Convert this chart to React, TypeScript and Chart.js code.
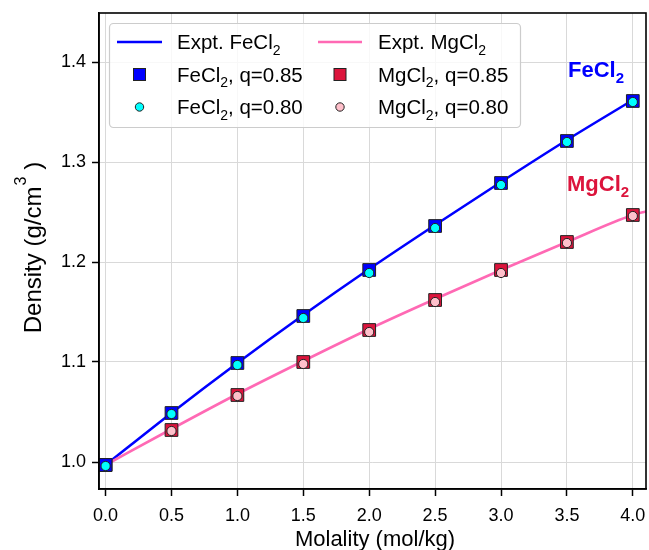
import React, { useEffect, useRef } from 'react';
import { Chart, registerables } from 'chart.js';

Chart.register(...registerables);

const FONT = '"Liberation Sans", Arial, sans-serif';

const molality = [0, 0.5, 1.0, 1.5, 2.0, 2.5, 3.0, 3.5, 4.0];
const feQ85 = [0.997, 1.049, 1.099, 1.146, 1.192, 1.236, 1.279, 1.321, 1.361];
const feQ80 = [0.996, 1.048, 1.097, 1.144, 1.189, 1.234, 1.277, 1.320, 1.360];
const mgQ85 = [0.997, 1.032, 1.067, 1.100, 1.132, 1.162, 1.192, 1.220, 1.247];
const mgQ80 = [0.996, 1.031, 1.066, 1.098, 1.130, 1.160, 1.189, 1.219, 1.246];
const exptFeX = [0, 0.5, 1.0, 1.5, 2.0, 2.5, 3.0, 3.5, 4.0];
const exptFeY = [0.997, 1.049, 1.099, 1.147, 1.193, 1.237, 1.280, 1.322, 1.362];
const exptMgX = [0, 0.5, 1.0, 1.5, 2.0, 2.5, 3.0, 3.5, 4.0, 4.1];
const exptMgY = [0.997, 1.033, 1.068, 1.101, 1.133, 1.163, 1.192, 1.220, 1.247, 1.2505];
const xTicks = [0, 0.5, 1.0, 1.5, 2.0, 2.5, 3.0, 3.5, 4.0];
const yTicks = [1.0, 1.1, 1.2, 1.3, 1.4];

const pts = (xs: number[], ys: number[]) => xs.map((x, i) => ({ x, y: ys[i] }));

type LegendItem = {
  kind: 'line' | 'rect' | 'circle';
  color: string;
  main: string;
  sub: string;
  tail: string;
};

const legendCols: LegendItem[][] = [
  [
    { kind: 'line', color: '#0000ff', main: 'Expt. FeCl', sub: '2', tail: '' },
    { kind: 'rect', color: '#0000ff', main: 'FeCl', sub: '2', tail: ', q=0.85' },
    { kind: 'circle', color: '#00ffff', main: 'FeCl', sub: '2', tail: ', q=0.80' },
  ],
  [
    { kind: 'line', color: '#ff69b4', main: 'Expt. MgCl', sub: '2', tail: '' },
    { kind: 'rect', color: '#dc143c', main: 'MgCl', sub: '2', tail: ', q=0.85' },
    { kind: 'circle', color: '#ffc0cb', main: 'MgCl', sub: '2', tail: ', q=0.80' },
  ],
];

function drawSubText(
  ctx: CanvasRenderingContext2D,
  x: number,
  y: number,
  main: string,
  sub: string,
  tail: string,
  size: number,
  bold: boolean,
  color: string
) {
  const w0 = bold ? 'bold ' : '';
  ctx.fillStyle = color;
  ctx.textAlign = 'left';
  ctx.textBaseline = 'alphabetic';
  ctx.font = `${w0}${size}px ${FONT}`;
  ctx.fillText(main, x, y);
  let w = ctx.measureText(main).width;
  ctx.font = `${w0}${Math.round(size * 0.7)}px ${FONT}`;
  ctx.fillText(sub, x + w, y + size * 0.27);
  w += ctx.measureText(sub).width;
  if (tail) {
    ctx.font = `${w0}${size}px ${FONT}`;
    ctx.fillText(tail, x + w, y);
    w += ctx.measureText(tail).width;
  }
  return w;
}

const zeroPad = () => ({ left: 0, top: 0, right: 0, bottom: 0 });

const overlayPlugin = {
  id: 'overlay',
  afterDraw(chart: any) {
    const ctx: CanvasRenderingContext2D = chart.ctx;
    const a = chart.chartArea;
    ctx.save();
    // frame
    ctx.strokeStyle = '#000';
    ctx.lineWidth = 1.6;
    ctx.strokeRect(a.left, a.top, a.right - a.left, a.bottom - a.top);

    // x title
    ctx.fillStyle = '#000';
    ctx.font = `22px ${FONT}`;
    ctx.textAlign = 'center';
    ctx.textBaseline = 'alphabetic';
    ctx.fillText('Molality (mol/kg)', 375, 546);

    // y title
    ctx.save();
    ctx.font = `24px ${FONT}`;
    const mainT = 'Density (g/cm';
    const wMain = ctx.measureText(mainT).width;
    ctx.font = `16px ${FONT}`;
    const wSup = ctx.measureText('3').width;
    ctx.font = `24px ${FONT}`;
    const wClose = ctx.measureText(')').width;
    const gap = 8;
    const total = wMain + wSup + gap + wClose;
    const startY = 247.5 + total / 2;
    ctx.translate(41, startY);
    ctx.rotate(-Math.PI / 2);
    ctx.textAlign = 'left';
    ctx.fillStyle = '#000';
    ctx.fillText(mainT, 0, 0);
    ctx.font = `16px ${FONT}`;
    ctx.fillText('3', wMain + 1, -15);
    ctx.font = `24px ${FONT}`;
    ctx.fillText(')', wMain + wSup + gap, 0);
    ctx.restore();

    // annotations
    drawSubText(ctx, 568, 77, 'FeCl', '2', '', 22, true, '#0000ff');
    drawSubText(ctx, 567, 191, 'MgCl', '2', '', 22, true, '#dc143c');

    // legend box
    const bx = 109.5, by = 23.5, bw = 411, bh = 104, r = 4;
    ctx.beginPath();
    ctx.moveTo(bx + r, by);
    ctx.lineTo(bx + bw - r, by);
    ctx.arcTo(bx + bw, by, bx + bw, by + r, r);
    ctx.lineTo(bx + bw, by + bh - r);
    ctx.arcTo(bx + bw, by + bh, bx + bw - r, by + bh, r);
    ctx.lineTo(bx + r, by + bh);
    ctx.arcTo(bx, by + bh, bx, by + bh - r, r);
    ctx.lineTo(bx, by + r);
    ctx.arcTo(bx, by, bx + r, by, r);
    ctx.closePath();
    ctx.fillStyle = 'rgba(255,255,255,0.8)';
    ctx.fill();
    ctx.strokeStyle = '#cccccc';
    ctx.lineWidth = 1.2;
    ctx.stroke();

    const rowsY = [42, 74.5, 107];
    const colX = [
      { l0: 117, l1: 162, m: 139.5, t: 177 },
      { l0: 318, l1: 362, m: 340, t: 378 },
    ];
    legendCols.forEach((col, ci) => {
      const c = colX[ci];
      col.forEach((it, ri) => {
        const cy = rowsY[ri];
        if (it.kind === 'line') {
          ctx.strokeStyle = it.color;
          ctx.lineWidth = 2.5;
          ctx.beginPath();
          ctx.moveTo(c.l0, cy);
          ctx.lineTo(c.l1, cy);
          ctx.stroke();
        } else if (it.kind === 'rect') {
          ctx.fillStyle = it.color;
          ctx.strokeStyle = '#222';
          ctx.lineWidth = 1;
          ctx.fillRect(c.m - 6, cy - 6, 12, 12);
          ctx.strokeRect(c.m - 6, cy - 6, 12, 12);
        } else {
          ctx.fillStyle = it.color;
          ctx.strokeStyle = '#222';
          ctx.lineWidth = 1;
          ctx.beginPath();
          ctx.arc(c.m, cy, 4.2, 0, Math.PI * 2);
          ctx.fill();
          ctx.stroke();
        }
        drawSubText(ctx, c.t, cy + 7, it.main, it.sub, it.tail, 20.5, false, '#000');
      });
    });
    ctx.restore();
  },
};

export default function App() {
  const ref = useRef<HTMLCanvasElement | null>(null);
  useEffect(() => {
    if (!ref.current) return;
    const chart = new Chart(ref.current, {
      type: 'line',
      data: {
        datasets: [
          {
            label: 'Expt. FeCl2',
            data: pts(exptFeX, exptFeY),
            borderColor: '#0000ff',
            backgroundColor: '#0000ff',
            borderWidth: 2.6,
            pointRadius: 0,
            cubicInterpolationMode: 'monotone',
            order: 10,
          },
          {
            label: 'Expt. MgCl2',
            data: pts(exptMgX, exptMgY),
            borderColor: '#ff69b4',
            backgroundColor: '#ff69b4',
            borderWidth: 2.6,
            pointRadius: 0,
            cubicInterpolationMode: 'monotone',
            order: 9,
          },
          {
            label: 'MgCl2, q=0.85',
            data: pts(molality, mgQ85),
            showLine: false,
            pointStyle: 'rect',
            pointRadius: 9,
            pointBackgroundColor: '#dc143c',
            pointBorderColor: '#222',
            pointBorderWidth: 1,
            order: 4,
          },
          {
            label: 'MgCl2, q=0.80',
            data: pts(molality, mgQ80),
            showLine: false,
            pointStyle: 'circle',
            pointRadius: 4.6,
            pointBackgroundColor: '#ffc0cb',
            pointBorderColor: '#222',
            pointBorderWidth: 1,
            order: 3,
          },
          {
            label: 'FeCl2, q=0.85',
            data: pts(molality, feQ85),
            showLine: false,
            pointStyle: 'rect',
            pointRadius: 9,
            pointBackgroundColor: '#0000ff',
            pointBorderColor: '#222',
            pointBorderWidth: 1,
            order: 2,
          },
          {
            label: 'FeCl2, q=0.80',
            data: pts(molality, feQ80),
            showLine: false,
            pointStyle: 'circle',
            pointRadius: 4.6,
            pointBackgroundColor: '#00ffff',
            pointBorderColor: '#222',
            pointBorderWidth: 1,
            order: 1,
          },
        ],
      },
      options: {
        responsive: false,
        animation: false,
        layout: { padding: { top: 13, right: 3, left: 0, bottom: 0 } },
        plugins: { legend: { display: false }, tooltip: { enabled: false } },
        scales: {
          x: {
            type: 'linear',
            min: -0.05,
            max: 4.1,
            afterFit: (s: any) => {
              s.height = 61;
              s.paddingLeft = 0;
              s.paddingRight = 0;
              s.getPadding = zeroPad;
            },
            afterBuildTicks: (s: any) => {
              s.ticks = xTicks.map((v) => ({ value: v }));
            },
            ticks: {
              font: { size: 18, family: FONT },
              color: '#000',
              padding: 9,
              maxRotation: 0,
              autoSkip: false,
              callback: (v: any) => Number(v).toFixed(1),
            },
            grid: {
              color: '#d9d9d9',
              lineWidth: 1,
              tickColor: '#000',
              tickLength: 7,
              tickWidth: 1.5,
            },
            border: { color: '#000', width: 1.6 },
          },
          y: {
            type: 'linear',
            min: 0.973,
            max: 1.449,
            afterFit: (s: any) => {
              s.width = 99;
              s.paddingTop = 0;
              s.paddingBottom = 0;
              s.getPadding = zeroPad;
            },
            afterBuildTicks: (s: any) => {
              s.ticks = yTicks.map((v) => ({ value: v }));
            },
            ticks: {
              font: { size: 18, family: FONT },
              color: '#000',
              padding: 6,
              autoSkip: false,
              callback: (v: any) => Number(v).toFixed(1),
            },
            grid: {
              color: '#d9d9d9',
              lineWidth: 1,
              tickColor: '#000',
              tickLength: 7,
              tickWidth: 1.5,
            },
            border: { color: '#000', width: 1.6 },
          },
        },
      },
      plugins: [overlayPlugin],
    } as any);
    return () => chart.destroy();
  }, []);
  return (
    <div
      style={{
        position: 'fixed',
        left: 0,
        top: 0,
        width: 649,
        height: 550,
        overflow: 'hidden',
        background: '#fff',
      }}
    >
      <canvas ref={ref} width={656} height={550} style={{ display: 'block' }} />
    </div>
  );
}
